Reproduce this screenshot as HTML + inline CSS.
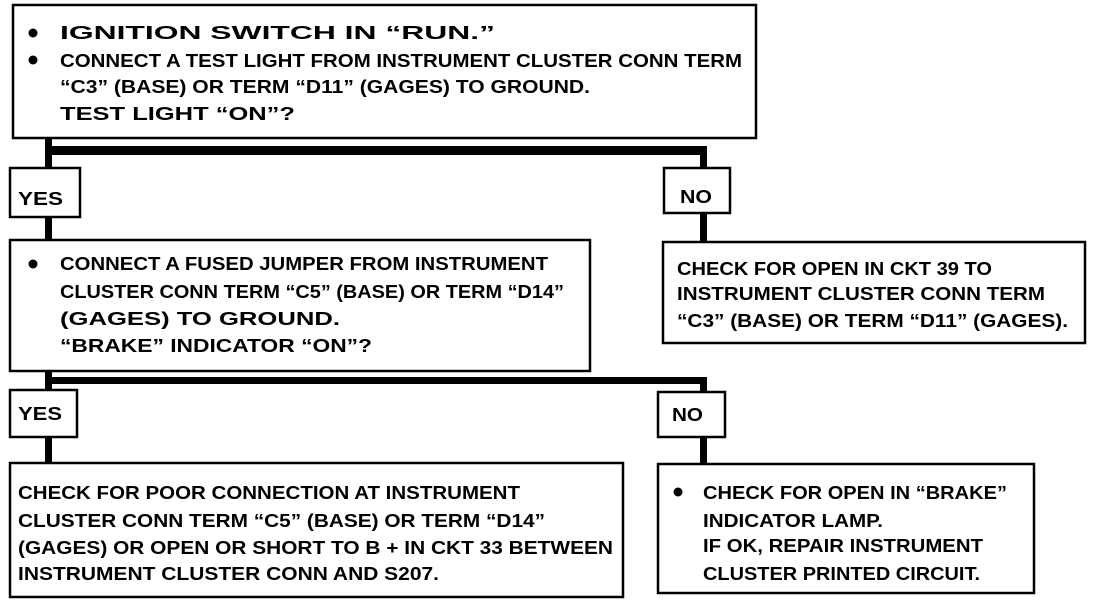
<!DOCTYPE html>
<html><head><meta charset="utf-8"><style>
html,body{margin:0;padding:0;background:#fff;}
svg{display:block;}
text{font-family:"Liberation Sans",sans-serif;font-weight:bold;font-size:18px;fill:#000;}
</style></head><body>
<svg width="1104" height="602" viewBox="0 0 1104 602" xmlns="http://www.w3.org/2000/svg">
<g fill="none" stroke="#000" stroke-width="2.5">
<rect x="13" y="5" width="743" height="133"/>
<rect x="10" y="168" width="70" height="49"/>
<rect x="664" y="168" width="66" height="45"/>
<rect x="10" y="240" width="580" height="131"/>
<rect x="663" y="242" width="422" height="101"/>
<rect x="10" y="390" width="67" height="47"/>
<rect x="658" y="392" width="67" height="45"/>
<rect x="10" y="463" width="613" height="134"/>
<rect x="658" y="464" width="376" height="129"/>
</g>
<g fill="#000">
<rect x="45" y="138" width="7" height="30"/>
<rect x="45" y="146" width="662" height="9"/>
<rect x="700" y="146" width="7" height="22"/>
<rect x="45" y="217" width="7" height="23"/>
<rect x="700" y="213" width="7" height="29"/>
<rect x="45" y="371" width="7" height="19"/>
<rect x="45" y="377" width="662" height="7"/>
<rect x="700" y="377" width="7" height="15"/>
<rect x="45" y="437" width="7" height="26"/>
<rect x="700" y="437" width="7" height="27"/>
<circle cx="33" cy="33" r="4.5"/>
<circle cx="33" cy="60" r="4.5"/>
<circle cx="33" cy="264" r="4.5"/>
<circle cx="678" cy="492" r="4.5"/>
</g>
<g>
<text x="60" y="39" textLength="435" lengthAdjust="spacingAndGlyphs">IGNITION SWITCH IN “RUN.”</text>
<text x="60" y="67" textLength="682" lengthAdjust="spacingAndGlyphs">CONNECT A TEST LIGHT FROM INSTRUMENT CLUSTER CONN TERM</text>
<text x="60" y="93" textLength="530" lengthAdjust="spacingAndGlyphs">“C3” (BASE) OR TERM “D11” (GAGES) TO GROUND.</text>
<text x="60" y="120" textLength="235" lengthAdjust="spacingAndGlyphs">TEST LIGHT “ON”?</text>
<text x="18" y="205" textLength="45" lengthAdjust="spacingAndGlyphs">YES</text>
<text x="680" y="203" textLength="32" lengthAdjust="spacingAndGlyphs">NO</text>
<text x="60" y="270" textLength="488" lengthAdjust="spacingAndGlyphs">CONNECT A FUSED JUMPER FROM INSTRUMENT</text>
<text x="60" y="298" textLength="504" lengthAdjust="spacingAndGlyphs">CLUSTER CONN TERM “C5” (BASE) OR TERM “D14”</text>
<text x="60" y="325" textLength="280" lengthAdjust="spacingAndGlyphs">(GAGES) TO GROUND.</text>
<text x="60" y="352" textLength="312" lengthAdjust="spacingAndGlyphs">“BRAKE” INDICATOR “ON”?</text>
<text x="677" y="275" textLength="315" lengthAdjust="spacingAndGlyphs">CHECK FOR OPEN IN CKT 39 TO</text>
<text x="677" y="300" textLength="368" lengthAdjust="spacingAndGlyphs">INSTRUMENT CLUSTER CONN TERM</text>
<text x="677" y="327" textLength="391" lengthAdjust="spacingAndGlyphs">“C3” (BASE) OR TERM “D11” (GAGES).</text>
<text x="18" y="420" textLength="44" lengthAdjust="spacingAndGlyphs">YES</text>
<text x="672" y="421" textLength="31" lengthAdjust="spacingAndGlyphs">NO</text>
<text x="18" y="499" textLength="502" lengthAdjust="spacingAndGlyphs">CHECK FOR POOR CONNECTION AT INSTRUMENT</text>
<text x="18" y="527" textLength="527" lengthAdjust="spacingAndGlyphs">CLUSTER CONN TERM “C5” (BASE) OR TERM “D14”</text>
<text x="18" y="554" textLength="595" lengthAdjust="spacingAndGlyphs">(GAGES) OR OPEN OR SHORT TO B + IN CKT 33 BETWEEN</text>
<text x="18" y="580" textLength="421" lengthAdjust="spacingAndGlyphs">INSTRUMENT CLUSTER CONN AND S207.</text>
<text x="703" y="499" textLength="304" lengthAdjust="spacingAndGlyphs">CHECK FOR OPEN IN “BRAKE”</text>
<text x="703" y="527" textLength="180" lengthAdjust="spacingAndGlyphs">INDICATOR LAMP.</text>
<text x="703" y="552" textLength="280" lengthAdjust="spacingAndGlyphs">IF OK, REPAIR INSTRUMENT</text>
<text x="703" y="580" textLength="277" lengthAdjust="spacingAndGlyphs">CLUSTER PRINTED CIRCUIT.</text>
</g>
</svg>
</body></html>
